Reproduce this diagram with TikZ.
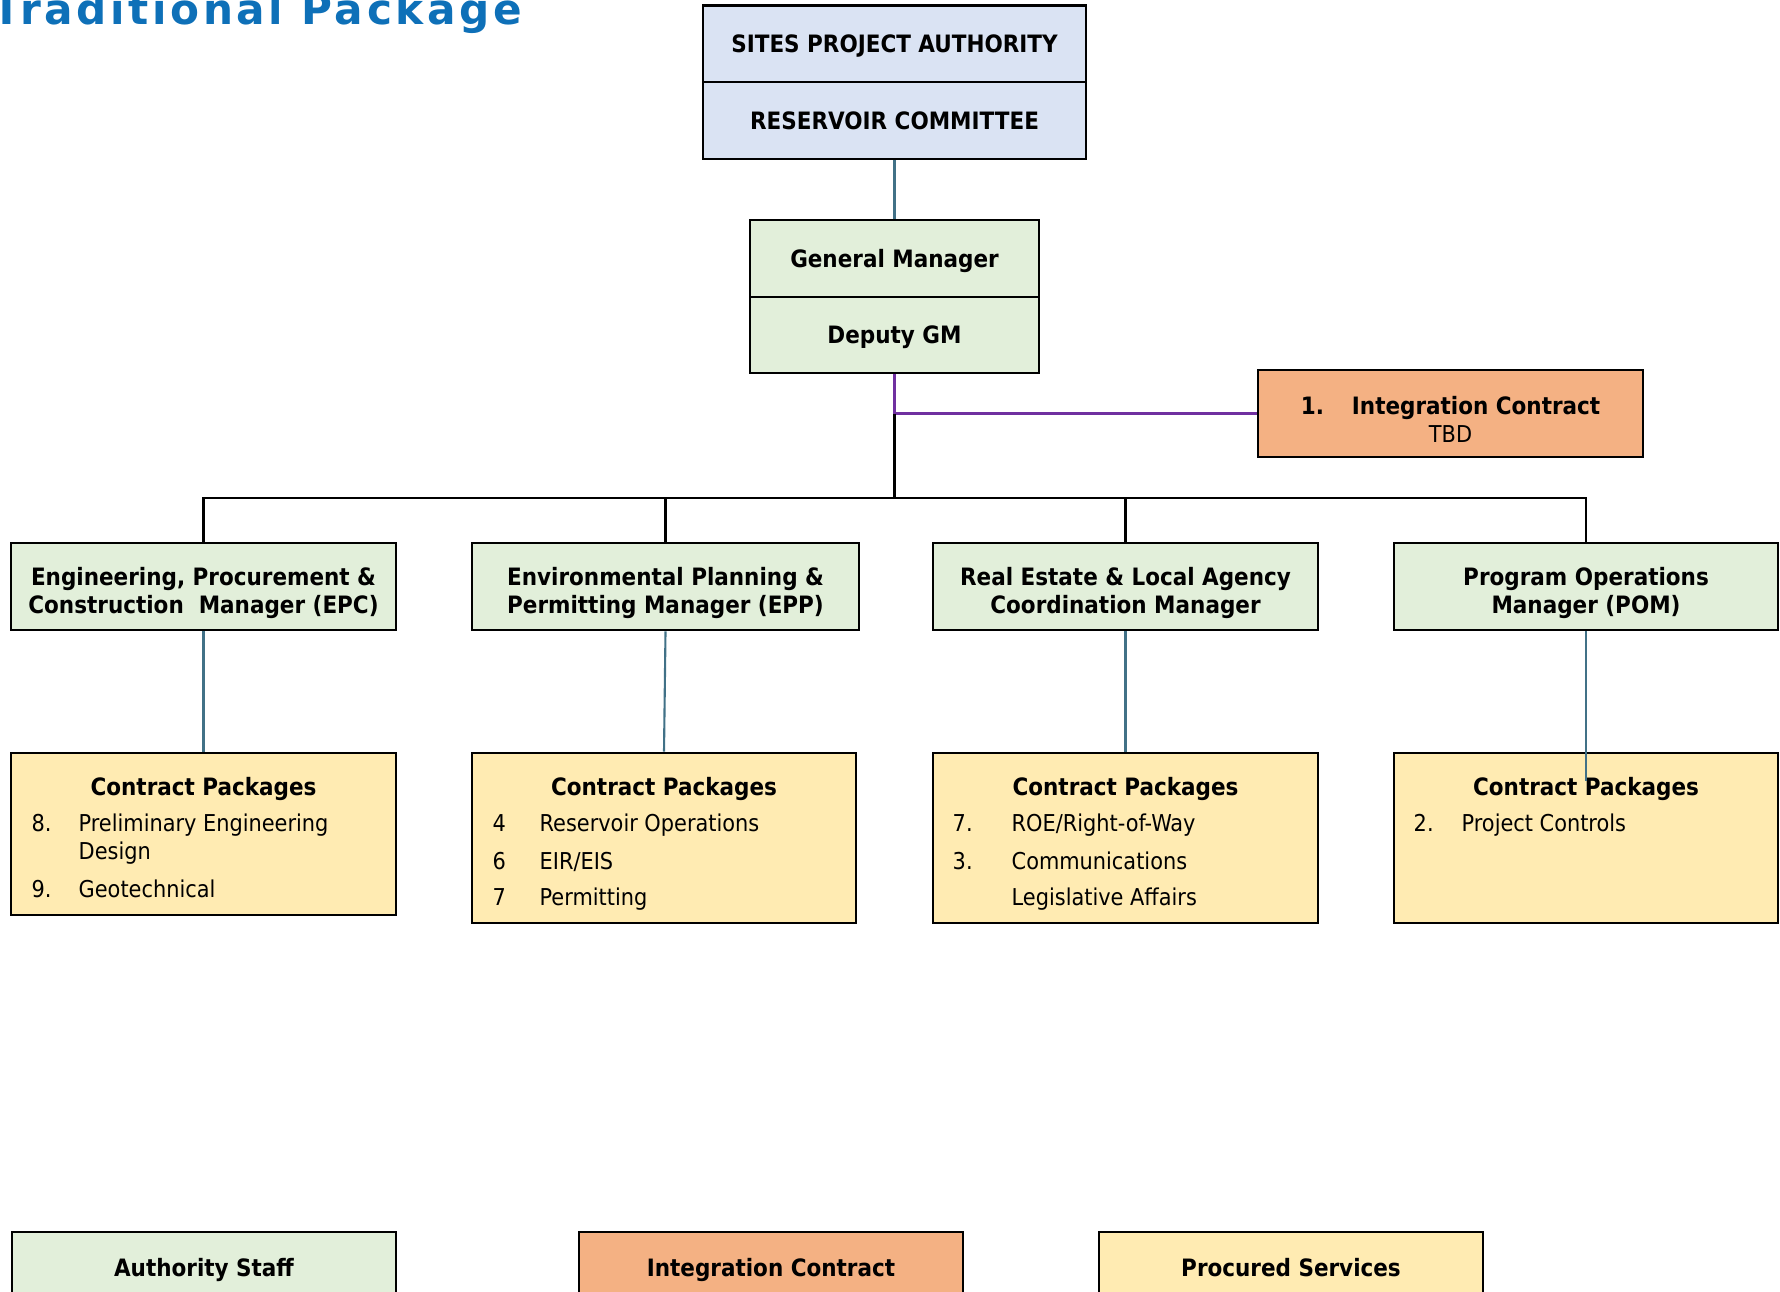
\documentclass[tikz,border=0pt]{standalone}
\usepackage{fontspec}
\setmainfont{DejaVu Sans Condensed}
\newfontfamily\titlefont[LetterSpace=8.5]{DejaVu Sans}
\usetikzlibrary{positioning}
\definecolor{boardblue}{RGB}{218,227,243}
\definecolor{staffgreen}{RGB}{226,239,218}
\definecolor{intorange}{RGB}{244,177,131}
\definecolor{procyellow}{RGB}{255,235,178}
\definecolor{linkteal}{RGB}{65,113,135}
\definecolor{intpurple}{RGB}{112,48,160}
\definecolor{titleblue}{RGB}{14,112,184}
\newcommand{\boxbold}{\fontsize{6.8}{8.1}\selectfont\bfseries}
\tikzstyle{board}=[draw=black,line width=0.7pt,fill=boardblue,minimum width=3.83cm,minimum height=0.765cm,inner sep=0pt,text depth=0pt,font=\boxbold]
\tikzstyle{staff}=[draw=black,line width=0.7pt,fill=staffgreen,inner sep=0pt,text depth=0pt,font=\boxbold,align=center]
\tikzstyle{mgr}=[staff,minimum width=3.85cm,minimum height=0.87cm,text height=17pt,text depth=1.6pt]
\tikzstyle{intbox}=[draw=black,line width=0.7pt,fill=intorange,inner sep=0pt,align=center]
\tikzstyle{pkg}=[draw=black,line width=0.7pt,fill=procyellow,minimum width=3.85cm,minimum height=1.7cm,inner sep=0pt]
\tikzstyle{pkghead}=[anchor=base,inner sep=0pt,font=\boxbold]
\tikzstyle{pkgitem}=[anchor=base west,inner sep=0pt]
\tikzstyle{link}=[draw=linkteal,line width=0.6pt]
\tikzstyle{busline}=[draw=black,line width=0.7pt]

\begin{document}
\begin{tikzpicture}[
    x=0.01cm,
    y=-0.01cm,
    font=\fontsize{6.6}{8.1}\selectfont
    ]
    \useasboundingbox (0,0) rectangle (1780,1291);
    \clip (0,0) rectangle (1780,1291);
    \node[anchor=base west,inner sep=0pt,text=titleblue,font=\titlefont\bfseries\fontsize{12}{13}\selectfont] (title) at (-8,25) {Traditional Package};
    % top of the tree
    \node[board] (spa) at (894.5,44) {SITES PROJECT AUTHORITY};
    \node[board] (rc) at (894.5,120.5) {RESERVOIR COMMITTEE};
    \node[staff,minimum width=2.89cm,minimum height=0.77cm] (gm) at (894.5,258.5) {General Manager};
    \node[staff,minimum width=2.89cm,minimum height=0.76cm] (dgm) at (894.5,335) {Deputy GM};
    \node[intbox,minimum width=3.85cm,minimum height=0.87cm,text height=16.7pt] (ic) at (1450.5,413.5) {{\boxbold 1.\hspace{0.28cm}Integration Contract}\\TBD};
    % managers
    \node[mgr] (epc) at (203.5,586.5) {Engineering, Procurement \&\\Construction\ \ Manager (EPC)};
    \node[mgr,minimum width=3.87cm] (epp) at (665.5,586.5) {Environmental Planning \&\\Permitting Manager (EPP)};
    \node[mgr] (rel) at (1125.5,586.5) {Real Estate \& Local Agency\\Coordination Manager};
    \node[mgr,minimum width=3.84cm] (pom) at (1586,586.5) {Program Operations\\Manager (POM)};
    % contract packages
    \node[pkg,minimum height=1.62cm] (cp1) at (203.5,834) {};
    \node[pkg,minimum width=3.84cm] (cp2) at (664,838) {};
    \node[pkg] (cp3) at (1125.5,838) {};
    \node[pkg,minimum width=3.84cm] (cp4) at (1586,838) {};
    \node[pkghead] (h1) at (203.5,795) {Contract Packages};
    \node[pkghead] (h2) at (664,795) {Contract Packages};
    \node[pkghead] (h3) at (1125.5,795) {Contract Packages};
    \node[pkghead] (h4) at (1586,795) {Contract Packages};
    \node[pkgitem] (n1a) at (31,831) {8.};
    \node[pkgitem,anchor=north west,align=left] (t1a) at (78,813) {Preliminary Engineering\\Design};
    \node[pkgitem] (n1b) at (31,897) {9.};
    \node[pkgitem] (t1b) at (78,897) {Geotechnical};
    \node[pkgitem] (n2a) at (492,831) {4};
    \node[pkgitem] (t2a) at (539,831) {Reservoir Operations};
    \node[pkgitem] (n2b) at (492,869) {6};
    \node[pkgitem] (t2b) at (539,869) {EIR/EIS};
    \node[pkgitem] (n2c) at (492,905) {7};
    \node[pkgitem] (t2c) at (539,905) {Permitting};
    \node[pkgitem] (n3a) at (952,831) {7.};
    \node[pkgitem] (t3a) at (1011,831) {ROE/Right-of-Way};
    \node[pkgitem] (n3b) at (952,869) {3.};
    \node[pkgitem] (t3b) at (1011,869) {Communications};
    \node[pkgitem] (t3c) at (1011,905) {Legislative Affairs};
    \node[pkgitem] (n4a) at (1413,831) {2.};
    \node[pkgitem] (t4a) at (1461,831) {Project Controls};
    % key
    \node[staff,minimum width=3.84cm,minimum height=0.7cm] (keystaff) at (204,1267) {Authority Staff};
    \node[intbox,minimum width=3.84cm,minimum height=0.7cm,text depth=0pt,font=\boxbold] (keyint) at (771,1267) {Integration Contract};
    \node[pkg,minimum width=3.84cm,minimum height=0.7cm,text depth=0pt,font=\boxbold] (keyproc) at (1291,1267) {Procured Services};
    % connectors
    \coordinate (busc) at (894.5,498);
    \coordinate (cp4in) at (1586,781);
    \draw[link] (rc.south) -- (gm.north);
    \draw[intpurple,line width=0.8pt] (dgm.south) |- (ic.west);
    \draw[busline] (dgm.south |- ic.west) -- (busc);
    \foreach \m in {epc,epp,rel,pom}
        \draw[busline] (busc) -| (\m.north);
    \draw[link] (epc.south) -- (cp1.north);
    \draw[link] (epp.south) -- (cp2.north);
    \draw[link] (rel.south) -- (cp3.north);
    \draw[link] (pom.south) -- (cp4in);
\end{tikzpicture}
\end{document}
